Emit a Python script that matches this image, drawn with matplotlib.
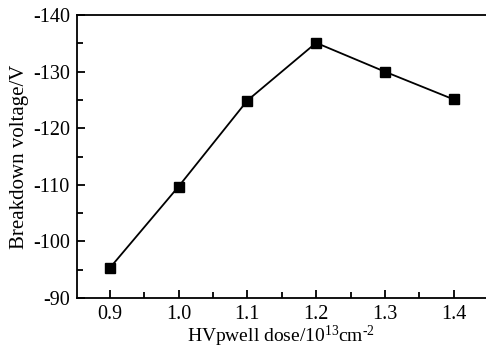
import matplotlib
matplotlib.use("Agg")
import matplotlib.pyplot as plt

dose = [0.9, 1.0, 1.1, 1.2, 1.3, 1.4]
breakdown = [-95.3, -109.7, -124.9, -135.1, -130.0, -125.1]
xticks = [0.9, 1.0, 1.1, 1.2, 1.3, 1.4]
yticks = [-140, -130, -120, -110, -100, -90]

plt.rcParams["font.family"] = ["Liberation Serif", "DejaVu Serif"]
plt.rcParams["mathtext.fontset"] = "custom"
plt.rcParams["mathtext.rm"] = "Liberation Serif"
plt.rcParams["mathtext.it"] = "Liberation Serif:italic"
plt.rcParams["axes.unicode_minus"] = False

fig = plt.figure(figsize=(4.86, 3.51), dpi=100)
ax = fig.add_axes([0.158, 0.151, 0.842, 0.806])

ax.plot(dose, breakdown, color="black", lw=1.3, marker="s", ms=7.5,
        markerfacecolor="black", markeredgecolor="black")

ax.set_xlim(0.852, 1.447)
ax.set_ylim(-90, -140)
ax.set_xticks(xticks)
ax.set_xticklabels([f"{v:.1f}" for v in xticks])
ax.set_xticks([0.95, 1.05, 1.15, 1.25, 1.35], minor=True)
ax.set_yticks(yticks)
ax.set_yticklabels([str(v) for v in yticks])
ax.set_yticks([-135, -125, -115, -105, -95], minor=True)
ax.tick_params(direction="in", labelsize=14.5, length=6, width=1.3, pad=5)
ax.tick_params(which="minor", direction="in", length=4, width=1.3)
for s in ax.spines.values():
    s.set_linewidth(1.3)
ax.spines["right"].set_visible(False)

ax.set_xlabel("HVpwell dose/10$^{\\mathrm{13}}$cm$^{\\mathrm{\u20102}}$",
              fontsize=14, labelpad=0)
ax.set_ylabel("Breakdown voltage/V", fontsize=15, labelpad=3)

fig.savefig("out.png", dpi=100)
